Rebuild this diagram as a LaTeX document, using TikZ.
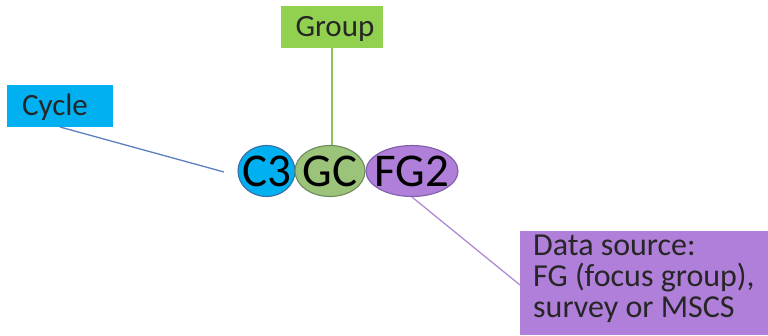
\documentclass[tikz,border=0pt]{standalone}
\usepackage{fontspec}
\setmainfont{Carlito}
\usetikzlibrary{shapes.geometric}
\definecolor{cyan1}{HTML}{00B0F0}
\definecolor{green1}{HTML}{92D050}
\definecolor{purp1}{HTML}{B07FD9}
\definecolor{gcfill}{HTML}{9BC47A}
\definecolor{lineblue}{HTML}{5B7FC0}
\definecolor{linegreen}{HTML}{8DBF5A}
\definecolor{linepurp}{HTML}{B08AD6}
\definecolor{c3line}{HTML}{3A6EA5}
\definecolor{gcline}{HTML}{6E8B5A}
\definecolor{fgline}{HTML}{7E5FA8}
\tikzset{
  lbl/.style={inner sep=0pt, text=black!85, font=\fontsize{31}{34}\selectfont},
  oval/.style={ellipse, inner sep=0pt, line width=1.1pt},
  ovaltext/.style={inner sep=0pt, text=black, font=\fontsize{47}{47}\selectfont},
}
\begin{document}
\begin{tikzpicture}[x=1pt,y=-1pt]
\useasboundingbox (0,0) rectangle (768,335);
\fill[cyan1] (7,85) rectangle (113,127);
\node[lbl] (cycle) at (55,107) {Cycle};
\coordinate (cycleb) at (60,127);
\fill[green1] (281,6) rectangle (383,48);
\node[lbl] (group) at (335,29) {Group};
\coordinate (groupb) at (332,48);
\fill[purp1] (520,231) rectangle (768,335);
\node[lbl, anchor=north west, align=left, font=\fontsize{32}{31}\selectfont] (data) at (533,235) {Data source:\\FG (focus group),\\survey or MSCS};
\coordinate (datatl) at (520,285);
\draw[linegreen, line width=1.3pt] (groupb) -- (332,146);
\node[oval, fill=cyan1, draw=c3line, minimum width=57pt, minimum height=51pt] (c3) at (266.5,171) {};
\node[oval, fill=gcfill, draw=gcline, minimum width=70pt, minimum height=51pt] (gc) at (330,171) {};
\node[oval, fill=purp1, draw=fgline, minimum width=92pt, minimum height=51pt] (fg) at (412,171) {};
\node[ovaltext] (c3t) at (c3) {C3};
\node[ovaltext] (gct) at (gc) {GC};
\node[ovaltext] (fgt) at (fg) {FG2};
\coordinate (cyclee) at (224,172);
\draw[lineblue, line width=1.3pt] (cycleb) -- (cyclee);
\draw[linepurp, line width=1.3pt] (fg.south) -- (datatl);
\end{tikzpicture}
\end{document}
